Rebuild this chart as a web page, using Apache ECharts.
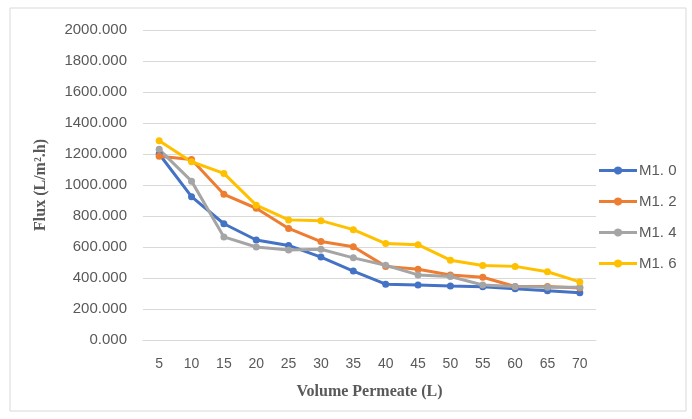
<!DOCTYPE html>
<html>
<head>
<meta charset="utf-8">
<script src="https://cdn.jsdelivr.net/npm/echarts@6/dist/echarts.min.js"></script>
<style>
  html, body { margin: 0; padding: 0; background: #fff; }
  #chart { width: 692px; height: 419px; }
</style>
</head>
<body>
<div id="chart"></div>
<script>
// x categories (volume permeate, L)
const volumes = ['5', '10', '15', '20', '25', '30', '35', '40', '45', '50', '55', '60', '65', '70']

// flux values
const m10 = [1200, 925, 750, 645, 610, 535, 445, 360, 355, 348, 343, 330, 318, 305]
const m12 = [1185, 1165, 940, 850, 720, 635, 602, 475, 456, 420, 405, 345, 345, 335]
const m14 = [1230, 1025, 665, 600, 580, 585, 530, 482, 420, 410, 355, 345, 340, 340]
const m16 = [1285, 1150, 1075, 870, 775, 770, 712, 622, 615, 515, 480, 475, 440, 375]

const seriesNames = ['M1. 0', 'M1. 2', 'M1. 4', 'M1. 6']
const colors = ['#4472C4', '#ED7D31', '#A5A5A5', '#FFC000']

const chart = echarts.init(document.getElementById('chart'))

const makeLine = (name, data, color) => ({
  name,
  type: 'line',
  data,
  symbol: 'circle',
  symbolSize: 7,
  lineStyle: { width: 3, color },
  itemStyle: { color },
  z: 3
})

chart.setOption({
  backgroundColor: '#fff',
  animation: false,
  color: colors,
  graphic: [{
    type: 'rect',
    shape: { x: 10, y: 8, width: 676, height: 403 },
    style: { fill: 'none', stroke: '#d9d9d9', lineWidth: 1 },
    silent: true
  }],
  grid: {
    left: 143,
    right: 96,
    top: 30,
    bottom: 79
  },
  legend: {
    orient: 'vertical',
    left: 594,
    top: 158,
    itemGap: 16,
    itemWidth: 38,
    itemHeight: 9,
    textStyle: { color: '#595959', fontSize: 15, fontFamily: 'Liberation Sans', padding: [0, 0, 0, -3] },
    data: seriesNames.map(n => ({
      name: n,
      icon: 'path://M0,3 L15,3 A4.5,4.5 0 0 1 23,3 L38,3 L38,6 L23,6 A4.5,4.5 0 0 1 15,6 L0,6 Z'
    }))
  },
  xAxis: {
    type: 'category',
    data: volumes,
    boundaryGap: true,
    name: 'Volume Permeate (L)',
    nameLocation: 'middle',
    nameGap: 44,
    nameTextStyle: {
      fontFamily: 'Liberation Serif',
      fontWeight: 'bold',
      fontSize: 16,
      color: '#595959'
    },
    axisLine: { show: true, lineStyle: { color: '#d9d9d9' } },
    axisTick: { show: false },
    axisLabel: { color: '#595959', fontSize: 14, fontFamily: 'Liberation Sans', margin: 17 }
  },
  yAxis: {
    type: 'value',
    min: 0,
    max: 2000,
    interval: 200,
    name: 'Flux (L/m².h)',
    nameLocation: 'middle',
    nameGap: 94,
    nameTextStyle: {
      fontFamily: 'Liberation Serif',
      fontWeight: 'bold',
      fontSize: 16,
      color: '#595959'
    },
    axisLine: { show: false },
    axisTick: { show: false },
    splitLine: { lineStyle: { color: '#d9d9d9', width: 1 } },
    axisLabel: {
      color: '#595959',
      fontSize: 15,
      fontFamily: 'Liberation Sans',
      margin: 16,
      formatter: v => v.toFixed(3)
    }
  },
  series: [
    makeLine(seriesNames[0], m10, colors[0]),
    makeLine(seriesNames[1], m12, colors[1]),
    makeLine(seriesNames[2], m14, colors[2]),
    makeLine(seriesNames[3], m16, colors[3])
  ]
})
</script>
</body>
</html>
